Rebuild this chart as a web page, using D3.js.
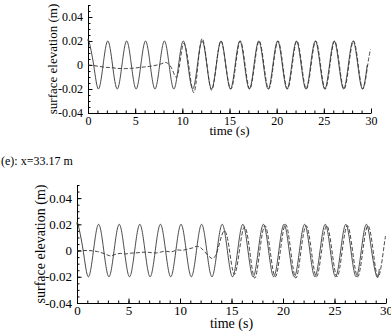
<!DOCTYPE html>
<html>
<head>
<meta charset="utf-8">
<script src="https://cdn.jsdelivr.net/npm/d3@7"></script>
<style>
  body { margin: 0; background: #fff; }
  svg { display: block; font-family: "Liberation Serif", "Times New Roman", serif; }
</style>
</head>
<body>
<div id="chart"></div>
<script>
// incident wave (solid), times in s, elevation in m
var solidTime = [0, 0.1, 0.6, 1.1, 1.6, 2.1, 2.6, 3.1, 3.6, 4.1, 4.6, 5.1, 5.6, 6.1, 6.6, 7.1, 7.6, 8.1, 8.6, 9.1,
    9.6, 10.1, 10.6, 11.1, 11.6, 12.1, 12.6, 13.1, 13.6, 14.1, 14.6, 15.1, 15.6, 16.1, 16.6, 17.1, 17.6, 18.1, 18.6, 19.1,
    19.6, 20.1, 20.6, 21.1, 21.6, 22.1, 22.6, 23.1, 23.6, 24.1, 24.6, 25.1, 25.6, 26.1, 26.6, 27.1, 27.6, 28.1, 28.6, 29.1];
var solidWave = [0.0198,
    0.02, 0, -0.02, 0, 0.02, 0, -0.02, 0, 0.02, 0, -0.02, 0, 0.02, 0, -0.02, 0,
    0.02, 0, -0.02, 0, 0.02, 0, -0.02, 0, 0.02, 0, -0.02, 0, 0.02, 0, -0.02, 0,
    0.02, 0, -0.02, 0, 0.02, 0, -0.02, 0, 0.02, 0, -0.02, 0, 0.02, 0, -0.02, 0,
    0.02, 0, -0.02, 0, 0.02, 0, -0.02, 0, 0.02, 0, -0.02];
var topSolidEnd = [[29.6, 0]];
var bottomSolidEnd = [[29.35, -0.014]];

// measured (dashed), top panel
var topDashTime = [0, 0.5, 1, 1.5, 2, 2.5, 3, 3.5, 4, 4.5, 5, 5.5, 6, 6.5, 7, 7.5, 8, 8.3, 8.7, 9.05,
    9.4, 9.75, 10.15, 10.65, 11.2, 11.65, 12.1, 12.6, 13.1, 13.6, 14.1, 14.6, 15.15, 15.65, 16.15, 16.65, 17.15, 17.65,
    18.15, 18.65, 19.15, 19.65, 20.15, 20.65, 21.15, 21.65, 22.15, 22.65, 23.15, 23.65, 24.15, 24.65, 25.15, 25.65,
    26.15, 26.65, 27.15, 27.65, 28.15, 28.65, 29.15, 29.65, 29.95];
var topDashed = [0, -0.0003, -0.001, -0.0015, -0.002, -0.0022, -0.0027, -0.003, -0.003, -0.0028, -0.0025, -0.002,
    -0.0016, -0.0012, -0.0006, 0.0004, 0.0016, 0.002, -0.0005, -0.006,
    -0.0102, 0.002, 0.018, 0.001, -0.023, 0, 0.022, 0.001, -0.021, 0, 0.02, 0, -0.02, 0, 0.02, 0, -0.02, 0,
    0.02, 0, -0.02, 0, 0.02, 0, -0.02, 0, 0.02, 0, -0.02, 0, 0.02, 0, -0.02, 0,
    0.02, 0, -0.02, 0, 0.02, 0, -0.02, 0, 0.013];

// measured (dashed), bottom panel x=33.17 m
var bottomDashTime = [0, 0.5, 1, 1.5, 2, 2.5, 3, 3.3, 3.7, 4.2, 4.7, 5.2, 5.7, 6.2, 6.7, 7.2, 7.7, 8.2, 8.7, 9.2,
    9.7, 10.2, 10.7, 11.2, 11.6, 12.0, 12.4, 12.9, 13.2, 13.5, 13.85, 14.3, 14.75, 15.25, 15.75, 16.25, 16.75, 17.25, 17.75,
    18.25, 18.75, 19.25, 19.75, 20.25, 20.75, 21.25, 21.75, 22.25, 22.75, 23.25, 23.75, 24.25, 24.75, 25.25, 25.75,
    26.25, 26.75, 27.25, 27.75, 28.25, 28.75, 29.25, 29.75, 29.95];
var bottomDashed = [0, 0, 0, -0.0002, -0.0008, -0.002, -0.0035, -0.004, -0.003, -0.0022, -0.0026, -0.002, -0.0018,
    -0.0014, -0.0012, -0.0016, -0.0018, -0.001, -0.0006, -0.0009,
    0.0004, 0.0002, 0.001, 0.002, 0.0032, 0.0022, -0.001, -0.005, -0.006, -0.003, 0.006, 0.015, 0.003, -0.018, -0.001,
    0.018, 0.001, -0.021, 0, 0.019, 0, -0.02, 0, 0.02, 0, -0.021, 0, 0.019, 0, -0.02, 0, 0.019, 0, -0.02, 0,
    0.019, 0, -0.02, 0, 0.019, 0, -0.02, 0, 0.011];

var xTicks = [0, 5, 10, 15, 20, 25, 30];
var yTicks = [-0.04, -0.02, 0, 0.02, 0.04];
var yLabels = ["-0.04", "-0.02", "0", "0.02", "0.04"];
var panelTitle = "(e): x=33.17 m";

var w = 391, h = 331;

var svg = d3.select("#chart").append("svg")
    .attr("width", w)
    .attr("height", h);

function zip(t, v) {
    return t.map((d, i) => [d, v[i]]);
}

function drawPanel(p) {
    var x = d3.scaleLinear().domain([0, 30]).range([p.left, p.right]);
    var y = d3.scaleLinear().domain([-0.04, 0.05]).range([p.bottom, p.top]);
    var g = svg.append("g");

    // minor ticks
    g.append("g")
        .attr("transform", `translate(0,${p.bottom})`)
        .call(d3.axisBottom(x).tickValues(d3.range(0, 31, 1)).tickSize(-2.5).tickSizeOuter(0).tickFormat(""))
        .call(a => a.select(".domain").remove());
    g.append("g")
        .attr("transform", `translate(${p.left},0)`)
        .call(d3.axisLeft(y).tickValues(d3.range(-0.04, 0.0501, 0.005)).tickSize(-2.5).tickSizeOuter(0).tickFormat(""))
        .call(a => a.select(".domain").remove());

    // major ticks + labels
    var xa = g.append("g")
        .attr("transform", `translate(0,${p.bottom})`)
        .call(d3.axisBottom(x).tickValues(xTicks).tickSize(-4.5).tickSizeOuter(0).tickPadding(p.tickFont * 0.25));
    var ya = g.append("g")
        .attr("transform", `translate(${p.left},0)`)
        .call(d3.axisLeft(y).tickValues(yTicks).tickSize(-4.5).tickSizeOuter(0).tickPadding(5)
            .tickFormat((d, i) => yLabels[i]));
    [xa, ya].forEach(a => {
        a.attr("font-family", null).attr("font-size", p.tickFont + "px");
        a.selectAll("text").attr("fill", "#000");
        a.selectAll("line, path").attr("stroke", "#000");
    });

    g.append("text")
        .attr("x", (p.left + p.right) / 2)
        .attr("y", p.xTitleY)
        .attr("text-anchor", "middle")
        .attr("font-size", p.titleFont + "px")
        .text("time (s)");

    g.append("text")
        .attr("transform", `translate(${p.yTitleX},${(p.top + p.bottom) / 2})rotate(-90)`)
        .attr("text-anchor", "middle")
        .attr("dy", "0.35em")
        .attr("font-size", p.titleFont + "px")
        .text("surface elevation (m)");

    var line = d3.line()
        .x(d => x(d[0]))
        .y(d => y(d[1]))
        .curve(d3.curveNatural);

    g.append("path")
        .datum(p.solid)
        .attr("fill", "none")
        .attr("stroke", "#333")
        .attr("stroke-width", 0.9)
        .attr("d", line);

    g.append("path")
        .datum(p.dashed)
        .attr("fill", "none")
        .attr("stroke", "#333")
        .attr("stroke-width", 0.9)
        .attr("stroke-dasharray", "4,2")
        .attr("d", line);
}

drawPanel({
    left: 88, right: 371, top: 5, bottom: 113,
    tickFont: 12, titleFont: 13, xTitleY: 135, yTitleX: 52,
    solid: zip(solidTime, solidWave).concat(topSolidEnd),
    dashed: zip(topDashTime, topDashed)
});

svg.append("text")
    .attr("x", 1)
    .attr("y", 165)
    .attr("font-size", "12px")
    .text(panelTitle);

drawPanel({
    left: 77, right: 386, top: 185, bottom: 303,
    tickFont: 13, titleFont: 14, xTitleY: 328, yTitleX: 40,
    solid: zip(solidTime, solidWave).concat(bottomSolidEnd),
    dashed: zip(bottomDashTime, bottomDashed)
});
</script>
</body>
</html>
